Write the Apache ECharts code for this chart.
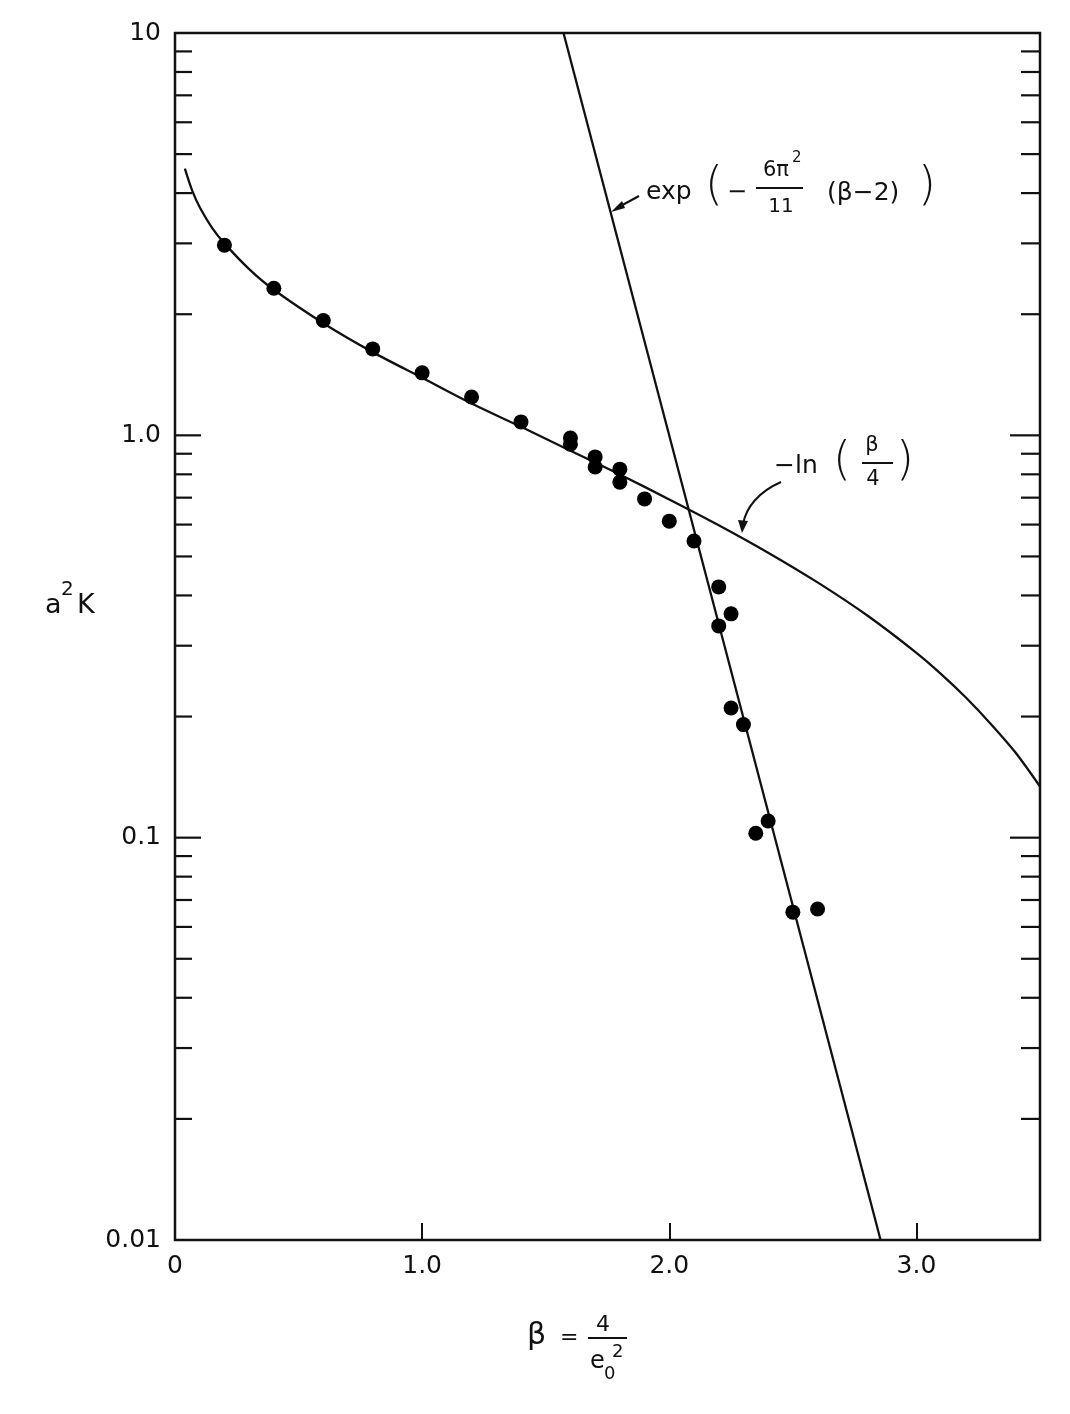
<!DOCTYPE html>
<html><head><meta charset="utf-8">
<script src="https://cdn.jsdelivr.net/npm/echarts/dist/echarts.min.js"></script>
<style>html,body{margin:0;padding:0;background:#fff}#c{width:1070px;height:1414px}</style>
</head><body><div id="c"></div>
<script>
// Measured points (beta, a^2 K)
const pointBeta = [0.2, 0.4, 0.6, 0.8, 1.0, 1.2, 1.4, 1.6, 1.6, 1.7, 1.7, 1.8, 1.8, 1.9, 2.0, 2.1, 2.2, 2.2, 2.25, 2.25, 2.3, 2.35, 2.4, 2.5, 2.6];
const pointA2K  = [2.97, 2.32, 1.93, 1.64, 1.43, 1.245, 1.08, 0.985, 0.95, 0.884, 0.834, 0.824, 0.765, 0.695, 0.612, 0.546, 0.42, 0.336, 0.36, 0.21, 0.191, 0.1026, 0.110, 0.0653, 0.0665];
// -ln(beta/4) curve
const lnCurveBeta = [0.04, 0.07, 0.1, 0.15, 0.2, 0.3, 0.4, 0.6, 0.8, 1.0, 1.2, 1.4, 1.6, 1.8, 2.0, 2.2, 2.4, 2.6, 2.8, 3.0, 3.1, 3.2, 3.3, 3.4, 3.5];
const lnCurveVal  = [4.6, 4.05, 3.69, 3.28, 3.0, 2.59, 2.30, 1.90, 1.61, 1.39, 1.20, 1.05, 0.916, 0.799, 0.693, 0.598, 0.511, 0.431, 0.357, 0.288, 0.255, 0.223, 0.192, 0.163, 0.134];
// exp(-6pi^2/11 (beta-2)) straight line on log scale
const expLineBeta = [1.572, 2.855];
const expLineVal  = [10, 0.01];
// Axes
const xTicks = [0, 1, 2, 3];
const xTickLabels = ['0', '1.0', '2.0', '3.0'];
const yTicks = [0.01, 0.1, 1, 10];
const yTickLabels = ['0.01', '0.1', '1.0', '10'];
const yMajorInner = [0.1, 1];
const yMinorTicks = [0.02,0.03,0.04,0.05,0.06,0.07,0.08,0.09, 0.2,0.3,0.4,0.5,0.6,0.7,0.8,0.9, 2,3,4,5,6,7,8,9];

const FONT = '"DejaVu Sans", "Liberation Sans", sans-serif';
const chart = echarts.init(document.getElementById('c'), null, {renderer: 'canvas'});

const scatterData = pointBeta.map((b, i) => [b, pointA2K[i]]);
const lnData = lnCurveBeta.map((b, i) => [b, lnCurveVal[i]]);
const expData = expLineBeta.map((b, i) => [b, expLineVal[i]]);
const tickData = yMinorTicks.map(v => [0, v, 0]).concat(yMajorInner.map(v => [0, v, 1]));

function txt(text, x, y, size, align, weight) {
  return {
    type: 'text', x: x, y: y, silent: true, z: 100,
    style: { text: text, font: (weight || 'normal') + ' ' + size + 'px ' + FONT, fill: '#111', align: align || 'left', verticalAlign: 'middle' }
  };
}
function ln(x1, y1, x2, y2, w) {
  return { type: 'line', silent: true, z: 100, shape: {x1, y1, x2, y2}, style: {stroke: '#111', lineWidth: w || 2} };
}

chart.setOption({
  backgroundColor: '#fff',
  animation: false,
  grid: { left: 175, right: 30, top: 33, bottom: 174, show: true, borderColor: '#111', borderWidth: 2.5, backgroundColor: 'transparent' },
  xAxis: {
    type: 'value', min: 0, max: 3.5, interval: 1,
    axisLine: { show: false },
    splitLine: { show: false },
    axisTick: { show: true, inside: true, length: 17, lineStyle: { color: '#111', width: 2 } },
    axisLabel: {
      showMaxLabel: false, margin: 14, color: '#111', fontSize: 25, fontFamily: FONT,
      formatter: v => { const i = xTicks.indexOf(Math.round(v * 10) / 10); return i >= 0 ? xTickLabels[i] : ''; }
    }
  },
  yAxis: {
    type: 'log', logBase: 10, min: 0.01, max: 10, splitNumber: 3,
    axisLine: { show: false },
    splitLine: { show: false },
    axisTick: { show: false },
    axisLabel: {
      margin: 14, color: '#111', fontSize: 25, fontFamily: FONT,
      formatter: v => { for (let i = 0; i < yTicks.length; i++) { if (Math.abs(Math.log10(v) - Math.log10(yTicks[i])) < 1e-6) return yTickLabels[i]; } return ''; }
    }
  },
  series: [
    {
      type: 'custom', data: tickData, encode: { x: 0, y: 1 }, silent: true, z: 5, clip: false,
      renderItem: function (params, api) {
        const v = api.value(1), major = api.value(2);
        const pL = api.coord([0, v]);
        const pR = api.coord([3.5, v]);
        const lenL = major ? 26 : 17, lenR = major ? 30 : 19;
        return { type: 'group', children: [
          { type: 'line', shape: { x1: pL[0], y1: pL[1], x2: pL[0] + lenL, y2: pL[1] }, style: { stroke: '#111', lineWidth: 2.2 } },
          { type: 'line', shape: { x1: pR[0], y1: pR[1], x2: pR[0] - lenR, y2: pR[1] }, style: { stroke: '#111', lineWidth: 2.2 } }
        ]};
      }
    },
    {
      type: 'line', data: lnData, smooth: 0.3, showSymbol: false, silent: true,
      lineStyle: { color: '#111', width: 2.3 }, z: 3
    },
    {
      type: 'line', data: expData, showSymbol: false, silent: true,
      lineStyle: { color: '#111', width: 2.3 }, z: 3
    },
    {
      type: 'scatter', data: scatterData, symbol: 'circle', symbolSize: 15, silent: true,
      itemStyle: { color: '#000', opacity: 1 }, z: 4
    }
  ],
  graphic: { elements: [
    // y-axis name a^2K
    txt('a', 45, 606, 27),
    txt('2', 61, 590, 20),
    txt('K', 77, 606, 27),
    // x-axis name beta = 4 / e0^2
    txt('β', 527, 1336, 30),
    txt('=', 560, 1338, 22),
    txt('4', 603, 1325, 22, 'center'),
    ln(588, 1338, 627, 1338, 2),
    txt('e', 590, 1362, 24),
    txt('0', 604, 1374, 18),
    txt('2', 612, 1352, 18),
    // exp annotation
    txt('exp', 646, 192, 25),
    txt('(', 705, 187, 46, 'left', '300'),
    txt('−', 727, 193, 24),
    txt('6π', 776, 171, 21, 'center'),
    txt('2', 792, 158, 15),
    ln(756, 188, 803, 188, 2),
    txt('11', 781, 207, 20, 'center'),
    txt('(β−2)', 827, 193, 25),
    txt(')', 918, 187, 46, 'left', '300'),
    ln(639, 196, 617, 208, 2),
    { type: 'polygon', silent: true, z: 100, shape: { points: [[611, 212], [622, 201], [625, 208]] }, style: { fill: '#111' } },
    // -ln annotation
    txt('−ln', 774, 466, 25),
    txt('(', 833, 462, 46, 'left', '300'),
    txt('β', 872, 446, 21, 'center'),
    ln(862, 463, 893, 463, 2),
    txt('4', 873, 480, 21, 'center'),
    txt(')', 896, 462, 46, 'left', '300'),
    { type: 'bezierCurve', silent: true, z: 100, shape: { x1: 781, y1: 482, x2: 743, y2: 524, cpx1: 758, cpy1: 492, cpx2: 746, cpy2: 508 }, style: { stroke: '#111', lineWidth: 2, fill: null } },
    { type: 'polygon', silent: true, z: 100, shape: { points: [[742, 533], [738, 520], [748, 521]] }, style: { fill: '#111' } }
  ]}
});
</script>
</body></html>
